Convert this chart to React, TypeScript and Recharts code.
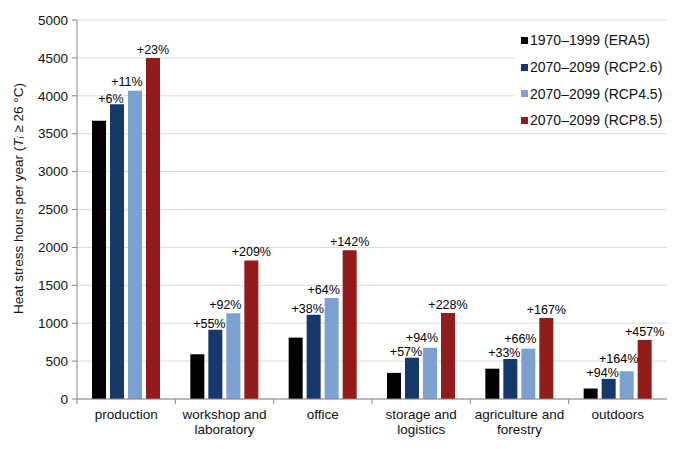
import React from "react";
import { BarChart, Bar, XAxis, YAxis, CartesianGrid, Legend, LabelList } from "recharts";

const categories = [
  "production",
  "workshop and\nlaboratory",
  "office",
  "storage and\nlogistics",
  "agriculture and\nforestry",
  "outdoors",
];
const era5 = [3670, 590, 810, 345, 400, 138];
const rcp26 = [3890, 912, 1112, 545, 528, 266];
const rcp45 = [4065, 1130, 1332, 676, 664, 366];
const rcp85 = [4500, 1828, 1962, 1135, 1069, 779];
const pct26 = ["+6%", "+55%", "+38%", "+57%", "+33%", "+94%"];
const pct45 = ["+11%", "+92%", "+64%", "+94%", "+66%", "+164%"];
const pct85 = ["+23%", "+209%", "+142%", "+228%", "+167%", "+457%"];
const yTicks = [0, 500, 1000, 1500, 2000, 2500, 3000, 3500, 4000, 4500, 5000];

const seriesNames = ["1970–1999 (ERA5)", "2070–2099 (RCP2.6)", "2070–2099 (RCP4.5)", "2070–2099 (RCP8.5)"];
const seriesColors = ["#000000", "#17386b", "#7ca0cf", "#921b1b"];

const data = categories.map((cat, i) => ({
  cat,
  era5: era5[i],
  rcp26: rcp26[i],
  rcp45: rcp45[i],
  rcp85: rcp85[i],
  p26: pct26[i],
  p45: pct45[i],
  p85: pct85[i],
}));

const W = 680;
const H = 449;
const FONT = "Arial, 'Liberation Sans', sans-serif";
const AXIS = "#858585";
const LEFT = 77;
const RIGHT = 13;
const band = (W - LEFT - RIGHT) / categories.length;

function CategoryTick({ x, y, payload }: any) {
  const lines = String(payload.value).split("\n");
  return (
    <g>
      <line x1={x - band / 2} x2={x - band / 2} y1={y} y2={y + 5} stroke={AXIS} />
      <text x={x} y={y} textAnchor="middle" fontSize={13.5} fontFamily={FONT} fill="#111">
        {lines.map((l, i) => (
          <tspan key={i} x={x} dy={i === 0 ? 20 : 15}>
            {l}
          </tspan>
        ))}
      </text>
    </g>
  );
}

// baseline of the RCP2.6 label, derived from the bar geometry of the RCP4.5 bar
function rcp26Baseline(props: any) {
  const { y, height, index } = props;
  const bottom = y + height;
  const top26 = bottom - (rcp26[index] * height) / rcp45[index];
  return top26 - 1.5;
}

const pctLabel = (dx: number, lift: number, avoid = false) => (props: any) => {
  const { x, y, width, value } = props;
  let by = y - lift;
  if (avoid) by = Math.min(by, rcp26Baseline(props) - 14);
  return (
    <text
      x={x + width / 2 + dx}
      y={by}
      textAnchor="middle"
      fontSize={12.5}
      fontFamily={FONT}
      fill="#000"
    >
      {value}
    </text>
  );
};

function YLabel({ viewBox }: any) {
  const cy = viewBox.y + viewBox.height / 2 - 11;
  return (
    <text
      x={18}
      y={cy}
      transform={`rotate(-90 18 ${cy})`}
      textAnchor="middle"
      dominantBaseline="central"
      fontSize={13.5}
      fontFamily={FONT}
      fill="#111"
    >
      Heat stress hours per year (
      <tspan fontStyle="italic">T</tspan>
      <tspan fontStyle="italic" fontSize={9} dy={3}>
        i
      </tspan>
      <tspan dy={-3}> ≥ 26 °C)</tspan>
    </text>
  );
}

function LegendBox() {
  return (
    <div
      style={{
        background: "#fff",
        padding: "6px 0 0 6px",
        height: 105,
        fontFamily: FONT,
        fontSize: 14,
        color: "#111",
        whiteSpace: "nowrap",
      }}
    >
      {seriesNames.map((n, i) => (
        <div key={n} style={{ display: "flex", alignItems: "center", height: 26.7 }}>
          <span style={{ width: 7, height: 7, background: seriesColors[i], marginRight: 2, flex: "none" }} />
          <span>{n}</span>
        </div>
      ))}
    </div>
  );
}

export default function App() {
  return (
    <div style={{ position: "absolute", left: 0, top: 0, width: W, height: H, background: "#fff" }}>
      <BarChart
        width={W}
        height={H}
        data={data}
        margin={{ top: 20, right: RIGHT, bottom: 0, left: 0 }}
        barSize={14}
        barGap={4}
      >
        <CartesianGrid xAxisId="cat" yAxisId="l" vertical={false} stroke="#d9d9d9" />
        <XAxis
          xAxisId="cat"
          dataKey="cat"
          height={50}
          tickLine={false}
          tickSize={0}
          tickMargin={0}
          interval={0}
          axisLine={{ stroke: AXIS }}
          tick={<CategoryTick />}
        />
        <XAxis xAxisId="top" dataKey="cat" orientation="top" height={0} tick={false} tickLine={false} axisLine={{ stroke: AXIS }} />
        <YAxis
          yAxisId="l"
          width={LEFT}
          domain={[0, 5000]}
          ticks={yTicks}
          interval={0}
          tickSize={5}
          tickMargin={4}
          axisLine={{ stroke: AXIS }}
          tickLine={{ stroke: AXIS }}
          tick={{ fontSize: 13.5, fontFamily: FONT, fill: "#111" }}
          label={{ content: <YLabel /> }}
        />
        <YAxis yAxisId="r" orientation="right" width={0} domain={[0, 5000]} tick={false} tickLine={false} axisLine={{ stroke: AXIS }} />
        <Legend
          layout="vertical"
          align="center"
          verticalAlign="middle"
          content={<LegendBox />}
          wrapperStyle={{ top: 21, left: 515, width: 151, height: 111 }}
        />
        <Bar xAxisId="cat" yAxisId="l" dataKey="era5" name={seriesNames[0]} fill={seriesColors[0]} isAnimationActive={false} />
        <Bar xAxisId="cat" yAxisId="l" dataKey="rcp26" name={seriesNames[1]} fill={seriesColors[1]} isAnimationActive={false}>
          <LabelList dataKey="p26" content={pctLabel(-6, 1.5)} />
        </Bar>
        <Bar xAxisId="cat" yAxisId="l" dataKey="rcp45" name={seriesNames[2]} fill={seriesColors[2]} isAnimationActive={false}>
          <LabelList dataKey="p45" content={pctLabel(-8, 4.5, true)} />
        </Bar>
        <Bar xAxisId="cat" yAxisId="l" dataKey="rcp85" name={seriesNames[3]} fill={seriesColors[3]} isAnimationActive={false}>
          <LabelList dataKey="p85" content={pctLabel(0, 4)} />
        </Bar>
      </BarChart>
    </div>
  );
}
